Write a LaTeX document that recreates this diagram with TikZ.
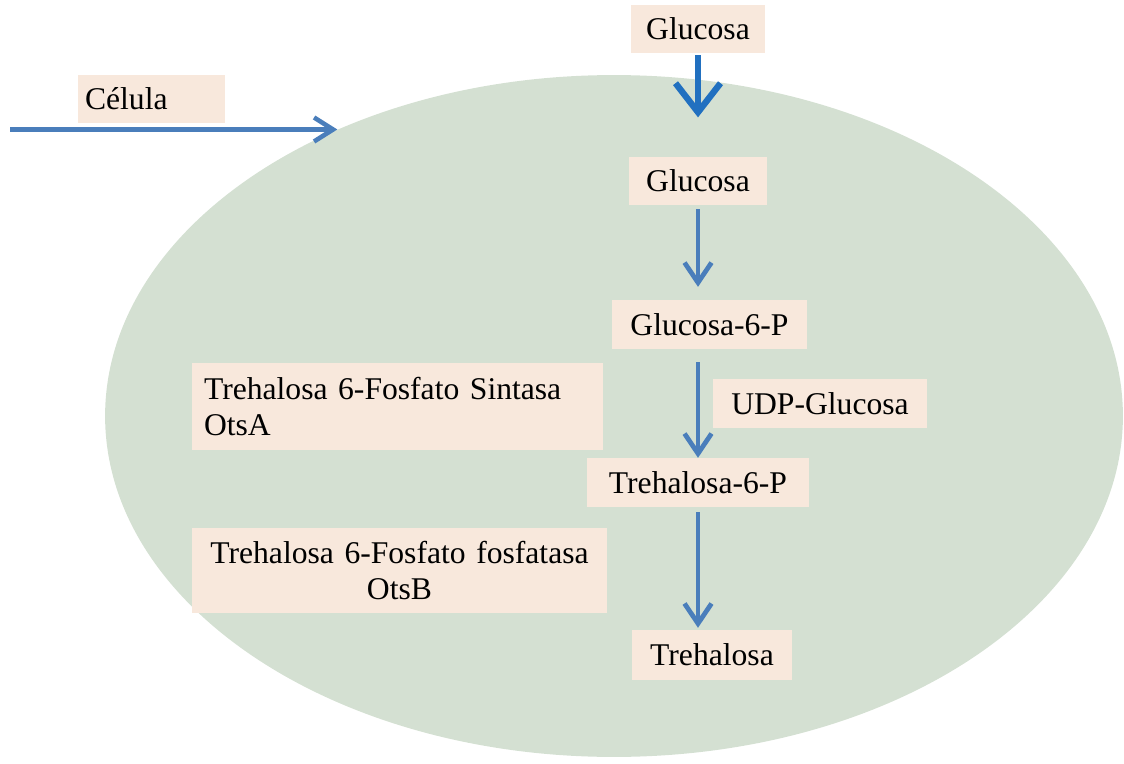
\documentclass[tikz,border=0pt]{standalone}
\usepackage{fontspec}
\setmainfont{Liberation Serif}
\usetikzlibrary{arrows.meta, positioning, shapes.geometric}

\definecolor{cellfill}{RGB}{212,224,210}
\definecolor{boxfill}{RGB}{248,232,220}
\definecolor{flowblue}{RGB}{74,126,187}
\definecolor{inblue}{RGB}{33,112,192}

\begin{document}
\begin{tikzpicture}[x=0.02cm,y=-0.02cm,node distance=3cm,on grid,
    every node/.style={font=\fontsize{18}{20}\selectfont},
    flow/.style={draw=flowblue,line width=2.7pt,-{Straight Barb[length=4mm,width=5.4mm,line width=2.7pt]}}]
  \tikzstyle{box}=[rectangle,fill=boxfill,inner sep=0pt,minimum height=0.97cm]
  \useasboundingbox (0,0) rectangle (1124,763);

  % Cell
  \node[ellipse,fill=cellfill,inner sep=0pt,minimum width=20.36cm,minimum height=13.64cm] (cell) at (614,416) {};
  \node[box,minimum width=2.94cm,text width=2.66cm,align=left] (celula) at (151.5,99) {Célula};
  \coordinate (celin) at (10,0 |- cell.134.6);

  % Metabolites
  \node[box,minimum width=2.68cm] (glu0) at (698,29) {Glucosa};
  \node[box,minimum width=2.76cm] (glu1) [below=3.04cm of glu0] {Glucosa};
  \node[box,minimum width=3.9cm] (g6p) [below=2.87cm of glu1,xshift=0.23cm] {Glucosa-6-P};
  \node[box,minimum width=4.44cm] (t6p) [below=3.16cm of glu1,yshift=-2.87cm] {Trehalosa-6-P};
  \node[box,minimum width=3.22cm,minimum height=1cm] (treh) [below=3.45cm of t6p,xshift=0.28cm] {Trehalosa};
  \node[box,minimum width=4.28cm] (udp) at (820,403.5) {UDP-Glucosa};

  % Enzymes
  \node[box,minimum width=8.22cm,minimum height=1.74cm,text width=7.74cm,align=left] (sint) at (397.5,406.5)
    {Trehalosa 6-Fosfato Sintasa\\OtsA};
  \node[box,minimum width=8.3cm,minimum height=1.7cm,text width=7.9cm,align=center] (fosf) at (399.5,570.5)
    {Trehalosa 6-Fosfato fosfatasa\\OtsB};

  \path[draw=flowblue,line width=2.6pt,-{Straight Barb[length=3.8mm,width=4.8mm,line width=2.6pt]}]
    (celin) -- (cell.134.6);
  \path[draw=inblue,line width=3.6pt,-{Straight Barb[length=5.8mm,width=9mm,line width=3.6pt]},
    shorten <=1pt,shorten >=0.78cm] (glu0) -- (glu1);
  \path[flow,shorten <=2pt,shorten >=0.26cm] (glu1.south) -- (glu1.south |- g6p.north);
  \path[flow,shorten <=0.26cm] (glu1.south |- g6p.south) -- (t6p.north);
  \path[flow,shorten <=3pt,shorten >=1pt] (t6p.south) -- (t6p.south |- treh.north);

\end{tikzpicture}
\end{document}
